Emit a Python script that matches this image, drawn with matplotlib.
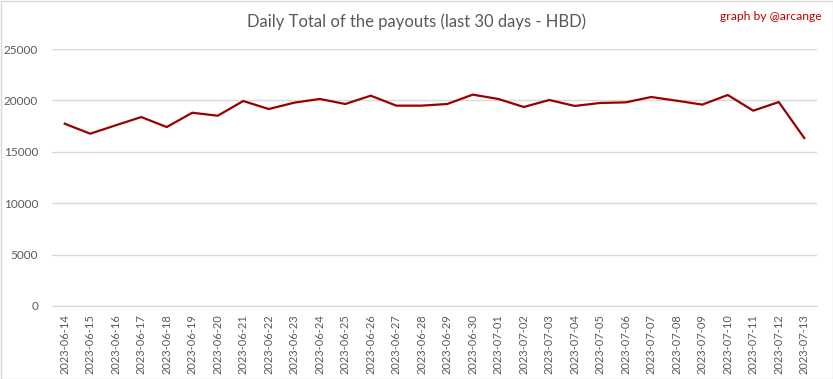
import matplotlib.pyplot as plt
from matplotlib.patches import Rectangle
import pandas as pd

# data
dates = [d.strftime('%Y-%m-%d') for d in pd.date_range('2023-06-14', '2023-07-13')]
payouts = [17730, 16760, 17580, 18380, 17410, 18800, 18510, 19940, 19160, 19780,
           20140, 19650, 20460, 19490, 19490, 19650, 20560, 20140, 19360, 20040,
           19460, 19750, 19810, 20330, 19970, 19590, 20525, 19000, 19840, 16340]

plt.rcParams['font.family'] = ['Lato', 'DejaVu Sans']
grey = '#595959'

fig = plt.figure(figsize=(8.33, 3.79), dpi=100)
ax = fig.add_axes([52/833, 1-306/379, 765/833, 257/379])

x = list(range(len(dates)))
ax.plot(x, payouts, color='#990000', linewidth=1.6, zorder=3)

ax.set_xlim(-0.5, len(dates) - 0.5)
ax.set_ylim(0, 25000)
ax.set_yticks(range(0, 25001, 5000))
ax.set_xticks(x)
ax.set_xticklabels(dates, rotation=90, fontsize=8)
ax.tick_params(axis='both', colors=grey, length=0)
ax.tick_params(axis='y', pad=10, labelsize=8.5)
ax.tick_params(axis='x', pad=6)
ax.grid(axis='y', color='#d9d9d9', linewidth=1)
for s in ['left', 'right', 'top']:
    ax.spines[s].set_visible(False)
ax.spines['bottom'].set_color('#d9d9d9')

fig.text(0.5, 1-22/379, 'Daily Total of the payouts (last 30 days - HBD)',
         ha='center', va='center', fontsize=12, color=grey)
fig.text(822/833, 1-16/379, 'graph by @arcange', ha='right', va='center',
         fontsize=8.7, color='#c00000')

fig.patches.append(Rectangle((0.5/833, 0.5/379), 1-1/833, 1-1/379, transform=fig.transFigure,
                             fill=False, edgecolor='#d9d9d9', linewidth=1))

fig.savefig('out.png', dpi=100)
